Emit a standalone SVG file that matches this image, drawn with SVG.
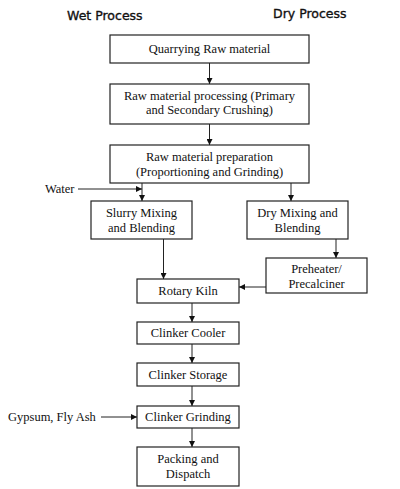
<svg xmlns="http://www.w3.org/2000/svg" width="400" height="489" viewBox="0 0 400 489">
<defs>
<marker id="ah" markerWidth="6" markerHeight="6" refX="6" refY="3" orient="auto" markerUnits="userSpaceOnUse">
<path d="M0,0 L6,3 L0,6 Z" fill="#111"/>
</marker>
<style>
.box{fill:#fff;stroke:#222;stroke-width:1.2}
.t{font-family:"Liberation Serif","Times New Roman",serif;font-size:12.5px;fill:#111;text-anchor:middle}
.l{font-family:"Liberation Serif","Times New Roman",serif;font-size:12.5px;fill:#111}
.h{font-family:"DejaVu Sans",Tahoma,sans-serif;font-size:12.5px;fill:#111;stroke:#111;stroke-width:0.35}
.c{stroke:#222;stroke-width:1;fill:none;marker-end:url(#ah)}
</style>
</defs>
<rect width="400" height="489" fill="#fff"/>
<text class="h" x="67" y="20">Wet Process</text>
<text class="h" x="273" y="18">Dry Process</text>

<g id="connectors">
<line class="c" x1="209.5" y1="63" x2="209.5" y2="84"/>
<line class="c" x1="209.5" y1="124" x2="209.5" y2="145"/>
<line class="c" x1="142" y1="183" x2="142" y2="201"/>
<line class="c" x1="78" y1="189" x2="142" y2="189"/>
<line class="c" x1="291" y1="183" x2="291" y2="201"/>
<line class="c" x1="163.5" y1="239" x2="163.5" y2="279"/>
<line class="c" x1="336" y1="239" x2="336" y2="258"/>
<line class="c" x1="266" y1="287" x2="239" y2="287"/>
<line class="c" x1="192" y1="303" x2="192" y2="322"/>
<line class="c" x1="192" y1="344" x2="192" y2="363"/>
<line class="c" x1="192" y1="386" x2="192" y2="406"/>
<line class="c" x1="101" y1="417" x2="137" y2="417"/>
<line class="c" x1="192" y1="428" x2="192" y2="447"/>
</g>

<g id="quarrying"><rect class="box" x="110" y="35" width="199" height="28"/><text class="t" x="209.5" y="53">Quarrying Raw material</text></g>
<g id="processing"><rect class="box" x="110" y="84" width="199" height="40"/><text class="t" x="209.5" y="100">Raw material processing (Primary</text><text class="t" x="209.5" y="114">and Secondary Crushing)</text></g>
<g id="preparation"><rect class="box" x="110" y="145" width="199" height="38"/><text class="t" x="209.5" y="161">Raw material preparation</text><text class="t" x="209.5" y="176">(Proportioning and Grinding)</text></g>
<g id="water"><text class="l" x="45" y="193">Water</text></g>
<g id="slurry"><rect class="box" x="91" y="201" width="101" height="38"/><text class="t" x="141.5" y="217">Slurry Mixing</text><text class="t" x="141.5" y="232">and Blending</text></g>
<g id="drymix"><rect class="box" x="247" y="201" width="101" height="38"/><text class="t" x="297.5" y="217">Dry Mixing and</text><text class="t" x="297.5" y="232">Blending</text></g>
<g id="preheater"><rect class="box" x="266" y="258" width="101" height="35"/><text class="t" x="316.5" y="273">Preheater/</text><text class="t" x="316.5" y="288">Precalciner</text></g>
<g id="kiln"><rect class="box" x="137" y="279" width="102" height="24"/><text class="t" x="188" y="295">Rotary Kiln</text></g>
<g id="cooler"><rect class="box" x="137" y="322" width="102" height="22"/><text class="t" x="188" y="337">Clinker Cooler</text></g>
<g id="storage"><rect class="box" x="137" y="363" width="102" height="23"/><text class="t" x="188" y="379">Clinker Storage</text></g>
<g id="gypsum"><text class="l" x="8" y="421">Gypsum, Fly Ash</text></g>
<g id="grinding"><rect class="box" x="137" y="406" width="102" height="22"/><text class="t" x="188" y="421">Clinker Grinding</text></g>
<g id="packing"><rect class="box" x="137" y="447" width="102" height="39"/><text class="t" x="188" y="463">Packing and</text><text class="t" x="188" y="478">Dispatch</text></g>
</svg>
